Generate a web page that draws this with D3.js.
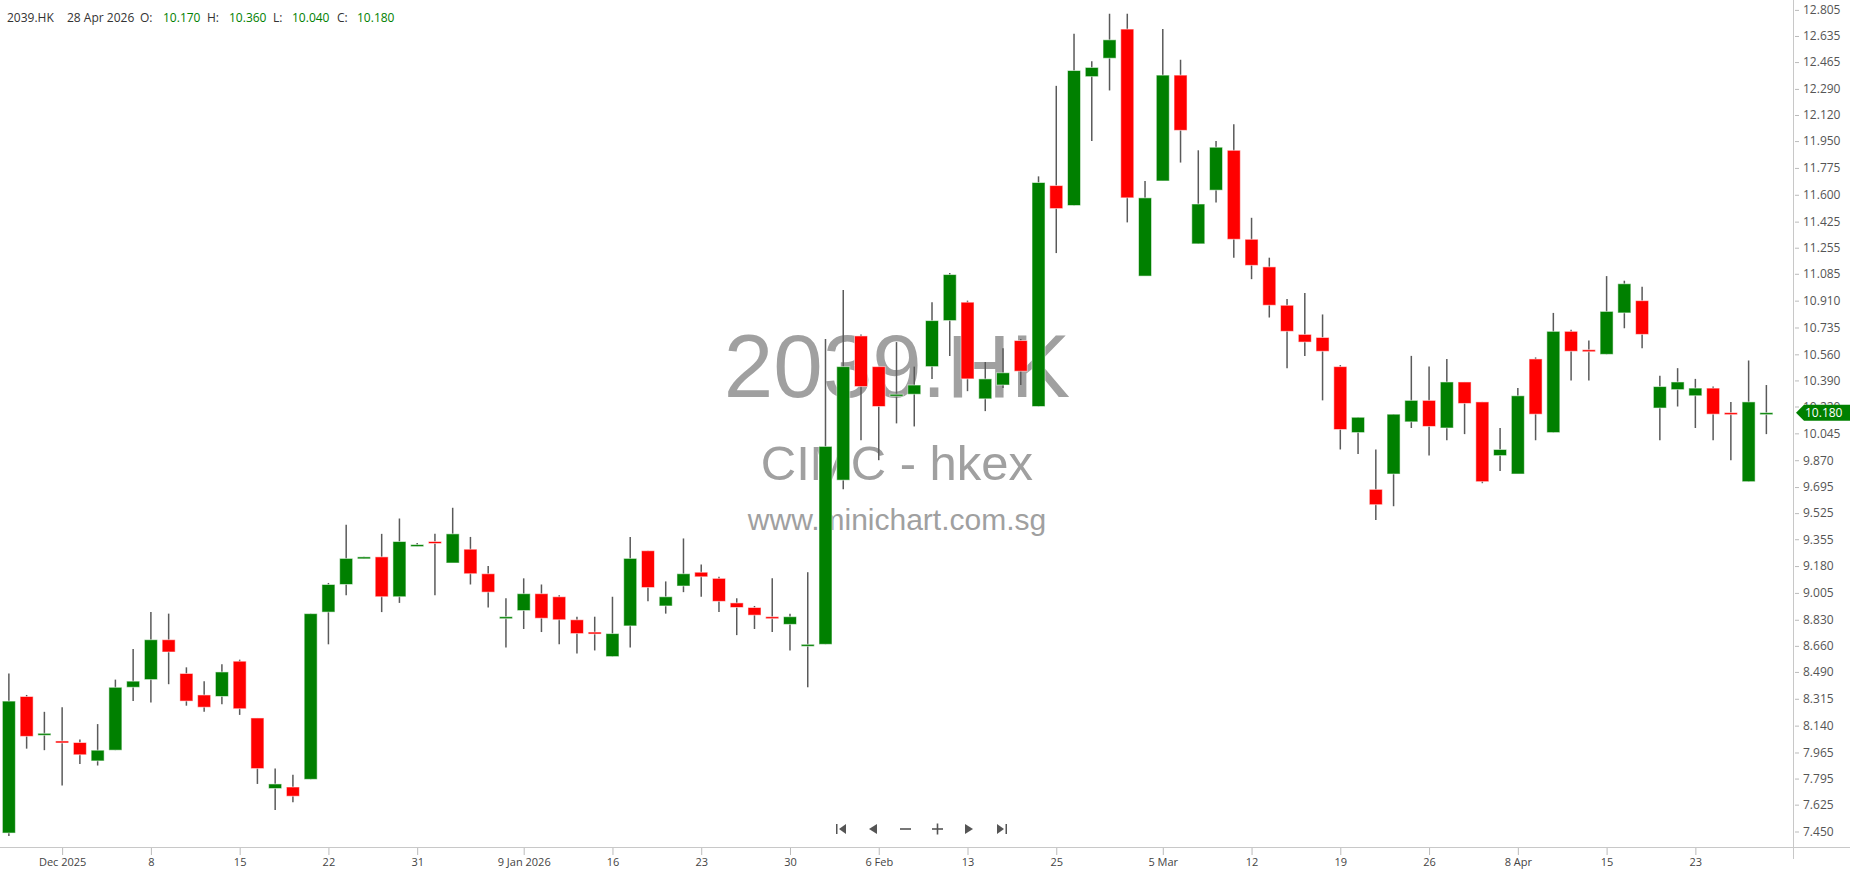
<!DOCTYPE html>
<html>
<head>
<meta charset="utf-8">
<script src="https://cdn.jsdelivr.net/npm/d3@7"></script>
<style>
  html, body { margin: 0; padding: 0; background: #fff; }
  svg { display: block; }
</style>
</head>
<body>
<script>
"use strict";
// daily candles, 26 Nov 2025 .. 28 Apr 2026 (100 sessions)
const opens = [7.44, 8.33, 8.08, 8.04, 8.03, 7.91, 7.98, 8.39, 8.44, 8.70,
    8.48, 8.34, 8.33, 8.56, 8.19, 7.73, 7.74, 7.79, 8.88, 9.06,
    9.23, 9.24, 8.98, 9.31, 9.34, 9.20, 9.29, 9.13, 8.84, 8.89,
    9.00, 8.98, 8.83, 8.75, 8.59, 8.79, 9.28, 8.92, 9.05, 9.14,
    9.10, 8.94, 8.91, 8.85, 8.80, 8.66, 8.67, 9.74, 10.68, 10.48,
    10.29, 10.30, 10.48, 10.78, 10.90, 10.27, 10.36, 10.65, 10.22, 11.66,
    11.53, 12.37, 12.49, 12.68, 11.07, 11.69, 12.38, 11.28, 11.63, 11.89,
    11.31, 11.13, 10.88, 10.69, 10.67, 10.48, 10.05, 9.68, 9.78, 10.12,
    10.26, 10.08, 10.38, 10.25, 9.90, 9.78, 10.53, 10.05, 10.71, 10.59,
    10.56, 10.83, 10.91, 10.21, 10.33, 10.29, 10.34, 10.18, 9.73, 10.17]
const highs = [8.48, 8.34, 8.23, 8.26, 8.05, 8.15, 8.44, 8.64, 8.88, 8.87,
    8.52, 8.43, 8.54, 8.57, 8.19, 7.86, 7.82, 8.87, 9.07, 9.45,
    9.24, 9.39, 9.49, 9.33, 9.39, 9.56, 9.37, 9.18, 8.97, 9.10,
    9.06, 8.99, 8.85, 8.85, 8.98, 9.37, 9.28, 9.08, 9.36, 9.19,
    9.11, 8.97, 8.92, 9.10, 8.87, 9.14, 10.66, 10.98, 10.69, 10.48,
    10.64, 10.48, 10.90, 11.09, 10.91, 10.51, 10.60, 10.66, 11.72, 12.31,
    12.65, 12.47, 12.78, 12.78, 11.69, 12.68, 12.48, 11.89, 11.95, 12.06,
    11.45, 11.19, 10.92, 10.96, 10.82, 10.49, 10.15, 9.94, 10.17, 10.55,
    10.48, 10.53, 10.38, 10.25, 10.08, 10.34, 10.54, 10.83, 10.72, 10.65,
    11.07, 11.04, 11.00, 10.42, 10.47, 10.40, 10.35, 10.25, 10.52, 10.36]
const lows = [7.42, 7.99, 7.98, 7.75, 7.89, 7.88, 7.98, 8.30, 8.29, 8.41,
    8.27, 8.23, 8.28, 8.21, 7.76, 7.59, 7.64, 7.79, 8.67, 8.99,
    9.23, 8.88, 8.94, 9.31, 8.99, 9.20, 9.06, 8.91, 8.65, 8.77,
    8.75, 8.67, 8.61, 8.63, 8.59, 8.65, 8.95, 8.87, 9.01, 8.98,
    8.88, 8.73, 8.77, 8.75, 8.63, 8.39, 8.67, 9.68, 10.00, 9.87,
    10.11, 10.09, 10.40, 10.55, 10.32, 10.19, 10.34, 10.36, 10.22, 11.22,
    11.53, 11.95, 12.28, 11.42, 11.07, 11.69, 11.81, 11.28, 11.55, 11.19,
    11.05, 10.80, 10.47, 10.55, 10.26, 9.94, 9.91, 9.48, 9.57, 10.08,
    9.90, 10.00, 10.04, 9.72, 9.80, 9.78, 10.00, 10.05, 10.39, 10.39,
    10.56, 10.73, 10.60, 10.00, 10.22, 10.08, 10.00, 9.87, 9.73, 10.04]
const closes = [8.30, 8.07, 8.09, 8.03, 7.95, 7.98, 8.39, 8.43, 8.70, 8.62,
    8.30, 8.26, 8.49, 8.25, 7.86, 7.76, 7.68, 8.87, 9.06, 9.23,
    9.24, 8.98, 9.34, 9.32, 9.33, 9.39, 9.13, 9.01, 8.85, 9.00,
    8.84, 8.83, 8.74, 8.74, 8.74, 9.23, 9.04, 8.98, 9.13, 9.11,
    8.95, 8.91, 8.86, 8.84, 8.85, 8.67, 9.96, 10.48, 10.35, 10.22,
    10.30, 10.36, 10.78, 11.08, 10.40, 10.40, 10.44, 10.45, 11.68, 11.51,
    12.41, 12.43, 12.61, 11.58, 11.58, 12.38, 12.02, 11.54, 11.91, 11.31,
    11.14, 10.88, 10.71, 10.64, 10.58, 10.07, 10.15, 9.58, 10.17, 10.26,
    10.09, 10.38, 10.24, 9.73, 9.94, 10.29, 10.17, 10.71, 10.58, 10.58,
    10.84, 11.02, 10.69, 10.35, 10.38, 10.34, 10.17, 10.17, 10.25, 10.18]

// axis labels
const xTickIdx = [3, 8, 13, 18, 23, 29, 34, 39, 44, 49, 54, 59, 65, 70, 75, 80, 85, 90, 95]
const xTickLabels = ["Dec 2025", "8", "15", "22", "31", "9 Jan 2026", "16", "23", "30", "6 Feb",
    "13", "25", "5 Mar", "12", "19", "26", "8 Apr", "15", "23"]
const yTickLabels = ["12.805", "12.635", "12.465", "12.290", "12.120", "11.950", "11.775", "11.600",
    "11.425", "11.255", "11.085", "10.910", "10.735", "10.560", "10.390", "10.220", "10.045",
    "9.870", "9.695", "9.525", "9.355", "9.180", "9.005", "8.830", "8.660", "8.490", "8.315",
    "8.140", "7.965", "7.795", "7.625", "7.450"]

const headerParts = [
    {t: "2039.HK", x: 7, c: "#333"}, {t: "28 Apr 2026", x: 67, c: "#333"},
    {t: "O:", x: 140, c: "#333"}, {t: "10.170", x: 163, c: "#008000"},
    {t: "H:", x: 207, c: "#333"}, {t: "10.360", x: 229, c: "#008000"},
    {t: "L:", x: 273, c: "#333"}, {t: "10.040", x: 292, c: "#008000"},
    {t: "C:", x: 337, c: "#333"}, {t: "10.180", x: 357, c: "#008000"}
]
const lastClose = 10.180

const measurements = { width: 1850, height: 874, plotRight: 1793, plotBottom: 847 }
const upColor = "#008000", downColor = "#ff0000"
const font = "'Open Sans', 'Noto Sans', sans-serif"

const svg = d3.select("body").append("svg")
    .attr("width", measurements.width)
    .attr("height", measurements.height)

const x = d3.scaleLinear().domain([-0.5, 100.5]).range([0, measurements.plotRight])
const y = d3.scaleLinear().domain([7.450, 12.805]).range([831.5, 9.9])

// watermark sits behind the candles
const wm = svg.append("g").attr("fill", "#a0a0a0")
    .attr("font-family", "'Liberation Sans', Arial, sans-serif")
    .attr("text-anchor", "middle")
wm.append("text").attr("x", 897).attr("y", 397).attr("font-size", 89).text("2039.HK")
wm.append("text").attr("x", 897).attr("y", 480).attr("font-size", 49).text("CIMC - hkex")
wm.append("text").attr("x", 897).attr("y", 530).attr("font-size", 30).text("www.minichart.com.sg")

// candles
const candles = d3.range(opens.length).map(i => ({
    i: i, o: opens[i], h: highs[i], l: lows[i], c: closes[i]
}))
const bodyW = 13

const cg = svg.append("g")
cg.selectAll(".wick").data(candles).enter().append("line")
    .attr("class", "wick")
    .attr("x1", d => x(d.i)).attr("x2", d => x(d.i))
    .attr("y1", d => y(d.h)).attr("y2", d => y(d.l))
    .attr("stroke", "#5a5a5a").attr("stroke-width", 1.5)

cg.selectAll(".body").data(candles).enter().append("rect")
    .attr("class", "body")
    .attr("x", d => x(d.i) - bodyW / 2)
    .attr("y", d => y(Math.max(d.o, d.c)))
    .attr("width", bodyW)
    .attr("height", d => Math.max(2, Math.abs(y(d.o) - y(d.c))))
    .attr("fill", d => d.c >= d.o ? upColor : downColor)
    .attr("stroke", "rgba(255,255,255,0.55)").attr("stroke-width", 1)

// axes lines
svg.append("line").attr("x1", 0).attr("x2", measurements.width)
    .attr("y1", measurements.plotBottom + 0.5).attr("y2", measurements.plotBottom + 0.5)
    .attr("stroke", "#c8c8c8")
svg.append("line").attr("x1", measurements.plotRight + 0.5).attr("x2", measurements.plotRight + 0.5)
    .attr("y1", 0).attr("y2", measurements.plotBottom + 12)
    .attr("stroke", "#c8c8c8")

let yAxis = d3.axisRight(y)
    .tickValues(yTickLabels.map(Number))
    .tickFormat((d, i) => yTickLabels[i])
    .tickSize(4).tickPadding(4)
const yG = svg.append("g")
    .attr("transform", `translate(${measurements.plotRight + 2},0)`)
    .call(yAxis)
yG.select(".domain").remove()
yG.selectAll(".tick line").attr("stroke", "#bbb")
yG.selectAll(".tick text").attr("fill", "#555").attr("font-size", 12).attr("font-family", font)

let xAxis = d3.axisBottom(x)
    .tickValues(xTickIdx)
    .tickFormat((d, i) => xTickLabels[i])
    .tickSize(7).tickPadding(3)
const xG = svg.append("g")
    .attr("transform", `translate(0,${measurements.plotBottom + 1})`)
    .call(xAxis)
xG.select(".domain").remove()
xG.selectAll(".tick line").attr("stroke", "#bbb")
xG.selectAll(".tick text").attr("fill", "#444").attr("font-size", 11).attr("font-family", font)

// last price flag
const fy = y(lastClose)
svg.append("path")
    .attr("d", `M${measurements.plotRight + 3},${fy} L${measurements.plotRight + 11},${fy - 8} L${measurements.width},${fy - 8} L${measurements.width},${fy + 8} L${measurements.plotRight + 11},${fy + 8} Z`)
    .attr("fill", upColor)
svg.append("text").attr("x", measurements.plotRight + 12).attr("y", fy + 4.5)
    .attr("fill", "#fff").attr("font-size", 12).attr("font-family", font)
    .text(d3.format(".3f")(lastClose))

// header line
svg.append("g").selectAll("text").data(headerParts).enter().append("text")
    .attr("x", d => d.x).attr("y", 22)
    .attr("fill", d => d.c).attr("font-size", 12).attr("font-family", font)
    .text(d => d.t)

// navigation buttons at bottom
const nav = svg.append("g").attr("fill", "#555").attr("stroke", "#555")
const ny = 829
nav.append("rect").attr("x", 836).attr("y", ny - 5).attr("width", 1.5).attr("height", 10).attr("stroke", "none")
nav.append("path").attr("d", `M839,${ny} L846,${ny - 5} L846,${ny + 5} Z`).attr("stroke", "none")
nav.append("path").attr("d", `M869,${ny} L877,${ny - 5} L877,${ny + 5} Z`).attr("stroke", "none")
nav.append("line").attr("x1", 900).attr("x2", 911).attr("y1", ny).attr("y2", ny).attr("stroke-width", 1.6)
nav.append("line").attr("x1", 932).attr("x2", 943).attr("y1", ny).attr("y2", ny).attr("stroke-width", 1.6)
nav.append("line").attr("x1", 937.5).attr("x2", 937.5).attr("y1", ny - 5.5).attr("y2", ny + 5.5).attr("stroke-width", 1.6)
nav.append("path").attr("d", `M973,${ny} L965,${ny - 5} L965,${ny + 5} Z`).attr("stroke", "none")
nav.append("path").attr("d", `M1004,${ny} L997,${ny - 5} L997,${ny + 5} Z`).attr("stroke", "none")
nav.append("rect").attr("x", 1005.5).attr("y", ny - 5).attr("width", 1.5).attr("height", 10).attr("stroke", "none")
</script>
</body>
</html>
